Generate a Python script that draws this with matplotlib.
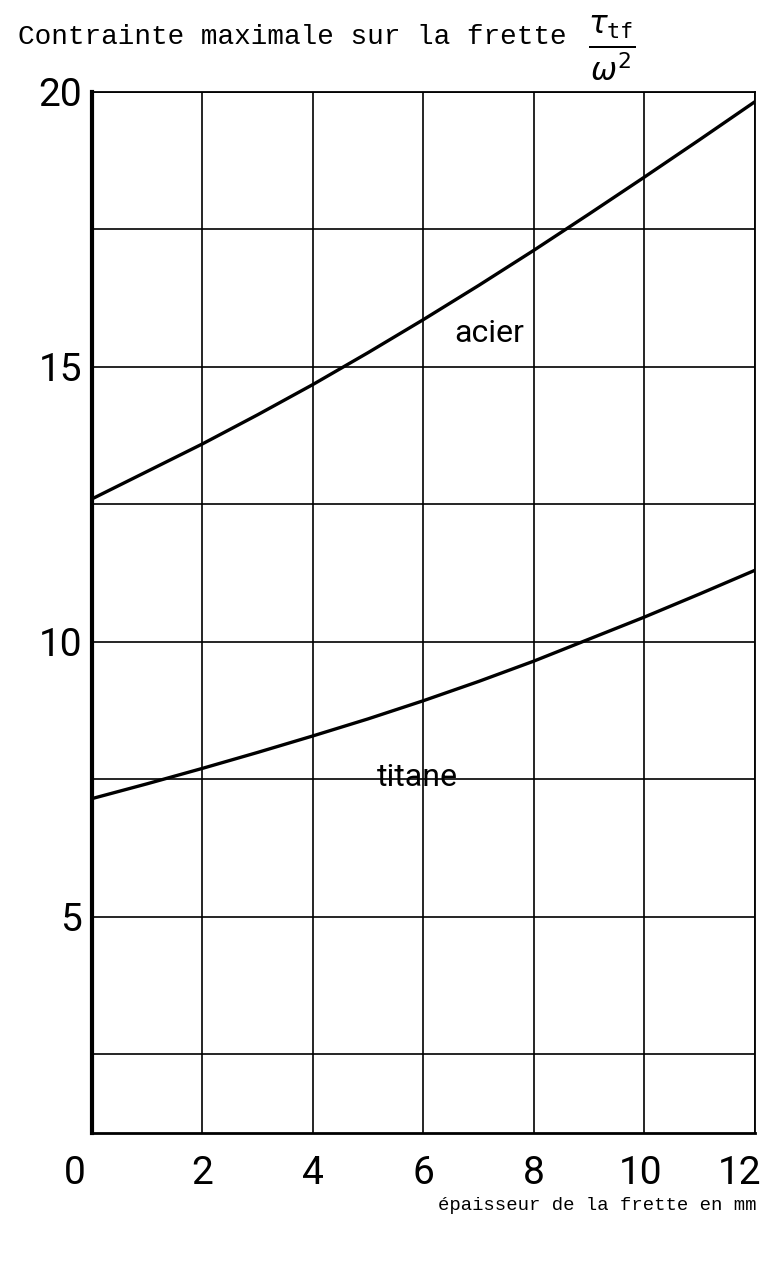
import matplotlib.pyplot as plt
from matplotlib.transforms import ScaledTranslation

# épaisseur de la frette (mm)
epaisseur = [0, 1, 2, 3, 4, 5, 6, 7, 8, 9, 10, 11, 12]
# contrainte maximale / omega^2
acier = [12.6, 13.1, 13.6, 14.13, 14.68, 15.26, 15.86, 16.48, 17.12, 17.78, 18.45, 19.13, 19.82]
titane = [7.15, 7.42, 7.7, 7.99, 8.29, 8.6, 8.93, 9.28, 9.65, 10.05, 10.45, 10.87, 11.3]

x_ticks = [0, 2, 4, 6, 8, 10, 12]
y_grid = [2.5, 5, 7.5, 10, 12.5, 15, 17.5, 20]
y_labels = ['', '5', '', '10', '', '15', '', '20']

mono = ['Liberation Mono', 'DejaVu Sans Mono']
sans = ['Roboto', 'DejaVu Sans']

fig = plt.figure(figsize=(7.6, 12.72), dpi=100)
ax = fig.add_axes([0.121, 0.1093, 0.872, 0.8184])

ax.plot(epaisseur, acier, color='black', lw=2.4, solid_joinstyle='round')
ax.plot(epaisseur, titane, color='black', lw=2.4, solid_joinstyle='round')

ax.set_xlim(0, 12)
ax.set_ylim(1.07, 20)
ax.set_xticks(x_ticks)
ax.set_xticklabels([str(v) for v in x_ticks], fontsize=28, family=sans)
ax.set_yticks(y_grid)
ax.set_yticklabels(y_labels, fontsize=28, family=sans)
ax.tick_params(length=0)
ax.tick_params(axis='x', pad=16)
ax.tick_params(axis='y', pad=7)
ax.grid(True, color='black', lw=1.2)

for s in ax.spines.values():
    s.set_linewidth(1.3)
ax.spines['left'].set_linewidth(3)
ax.spines['bottom'].set_linewidth(2)

# shift the end labels like in the drawing
xl = ax.get_xticklabels()
xl[0].set_transform(xl[0].get_transform() + ScaledTranslation(-0.17, 0, fig.dpi_scale_trans))
xl[-1].set_transform(xl[-1].get_transform() + ScaledTranslation(-0.15, 0, fig.dpi_scale_trans))
xl[-2].set_transform(xl[-2].get_transform() + ScaledTranslation(-0.04, 0, fig.dpi_scale_trans))

ax.text(7.2, 15.6, 'acier', fontsize=23, family=sans, ha='center', va='center')
ax.text(5.9, 7.53, 'titane', fontsize=23, family=sans, ha='center', va='center')

fig.text(18 / 760, 1 - 37 / 1272, 'Contrainte maximale sur la frette',
         fontsize=20, family=mono, ha='left', va='center')
fig.text(612 / 760, 1 - 48 / 1272, r'$\frac{\tau_{\mathtt{tf}}}{\omega^{2}}$',
         fontsize=32, ha='center', va='center')

fig.text(757 / 760, 1 - 1205 / 1272, 'épaisseur de la frette en mm',
         fontsize=13.6, family=mono, ha='right', va='center')

fig.savefig('out.png', dpi=100, facecolor='white')
